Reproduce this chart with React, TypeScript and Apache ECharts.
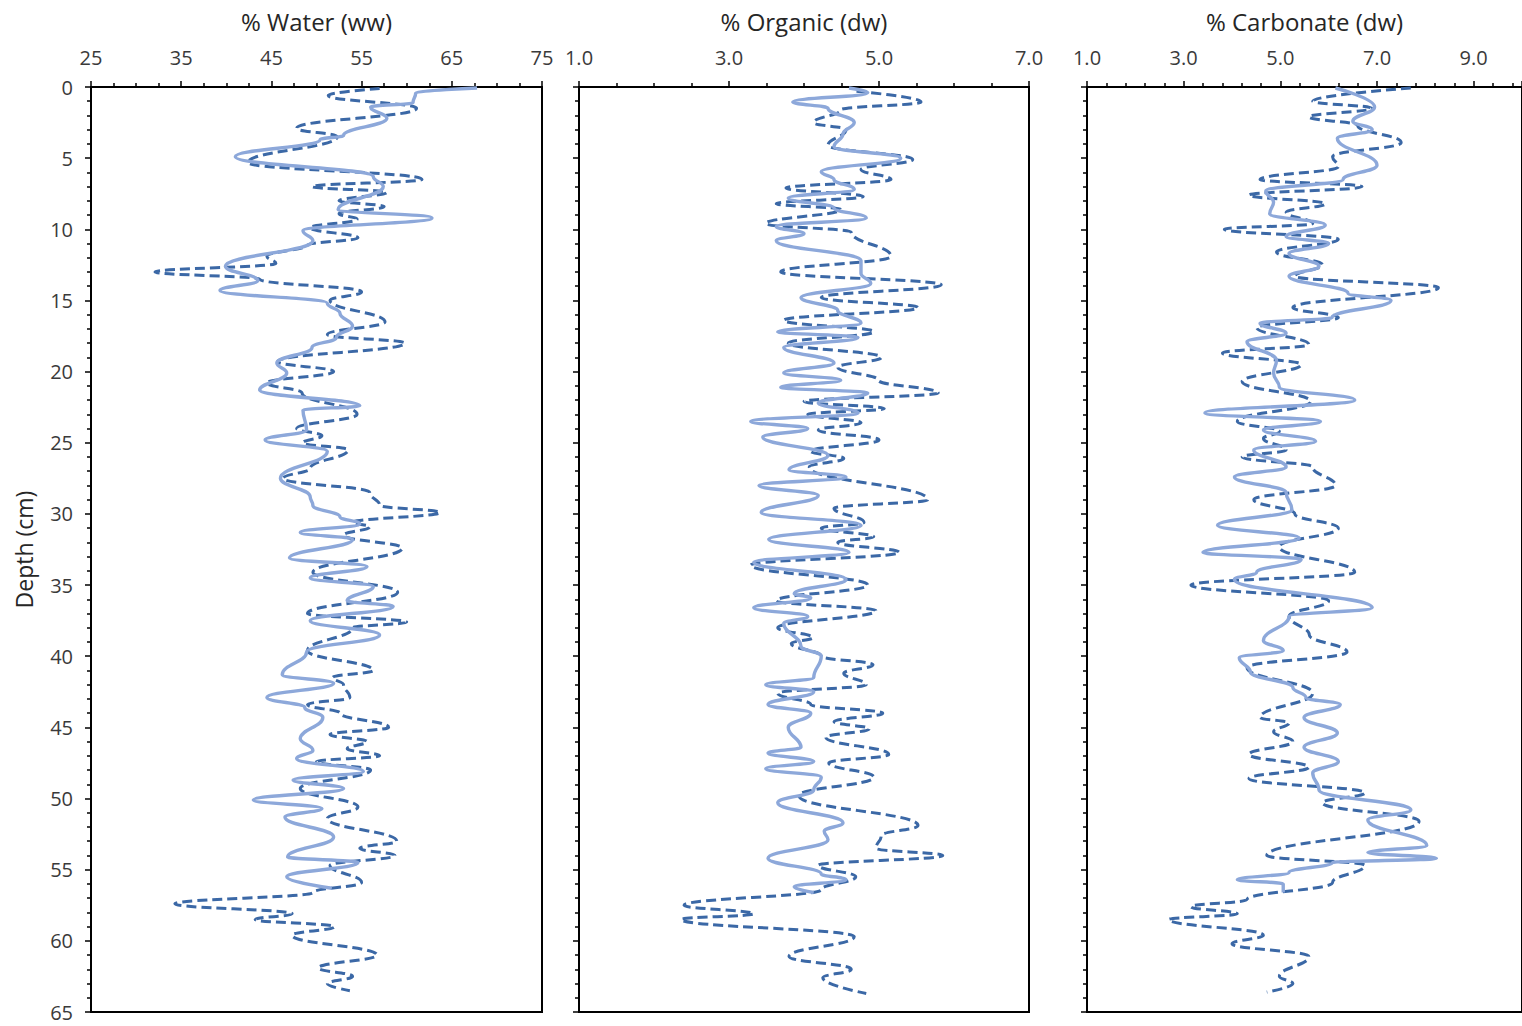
import React, { useEffect, useRef } from "react";
import * as echarts from "echarts";

// Core depths (cm) and measured values for each profile.
// Solid lines: core A; dashed lines: core B.

// % Water (ww)
const waterSolidDepth = [0.07, 0.4, 1.1, 1.4, 2.2, 3.4, 3.7, 4.9, 6.3, 7.0, 8.6, 9.2, 10.1, 10.8, 12.6, 13.6, 14.3, 15.2, 15.9, 16.8, 17.6, 18.3, 19.4, 20.1, 21.3, 22.4, 22.7, 24.1, 24.8, 25.6, 27.5, 28.8, 29.4, 30.2, 30.7, 31.3, 31.8, 33.1, 33.7, 34.5, 35.1, 36.1, 36.5, 37.5, 38.5, 39.7, 41.3, 41.9, 42.9, 43.6, 44.3, 45.8, 46.6, 47.2, 48.1, 48.7, 49.3, 50.1, 50.7, 51.3, 52.7, 54.1, 54.5, 55.5, 56.3];
const waterSolidPct = [67.8, 61.0, 60.7, 56.0, 57.8, 53.0, 50.4, 41.0, 56.3, 57.4, 52.4, 62.8, 48.5, 49.6, 39.9, 43.5, 39.3, 51.2, 52.6, 54.0, 52.2, 49.5, 45.6, 46.7, 43.7, 54.8, 48.5, 48.9, 44.3, 51.2, 46.0, 49.3, 49.6, 52.6, 54.8, 48.2, 54.0, 47.0, 55.6, 49.3, 56.3, 53.4, 58.5, 49.3, 57.0, 48.9, 46.2, 51.9, 44.5, 48.7, 50.7, 48.2, 49.6, 47.8, 55.2, 47.4, 53.0, 43.0, 50.6, 46.5, 51.9, 46.8, 54.6, 46.7, 51.7];
const waterDashDepth = [0.1, 0.6, 1.5, 2.9, 3.5, 5.3, 6.5, 7.0, 7.4, 8.0, 8.4, 8.9, 9.3, 9.9, 10.6, 11.1, 11.9, 12.4, 13.0, 13.5, 14.4, 15.0, 16.5, 17.4, 18.0, 19.3, 20.0, 20.8, 21.5, 23.0, 24.0, 24.5, 25.0, 25.5, 26.8, 27.5, 28.5, 29.4, 29.9, 30.6, 30.9, 31.5, 32.4, 34.1, 35.5, 37.0, 37.6, 38.0, 39.6, 41.0, 41.5, 42.0, 42.9, 43.4, 44.0, 45.0, 45.5, 46.0, 46.5, 47.0, 47.4, 48.0, 49.3, 50.6, 51.4, 53.0, 53.5, 54.0, 54.7, 55.9, 56.6, 57.4, 58.1, 58.5, 59.0, 59.6, 61.0, 61.9, 62.5, 63.0, 63.5];
const waterDashPct = [57.0, 51.3, 61.1, 47.8, 52.3, 42.4, 61.7, 49.5, 57.8, 52.5, 57.5, 52.5, 54.5, 49.3, 54.6, 49.0, 44.5, 45.5, 32.1, 43.7, 55.0, 51.5, 57.6, 51.2, 59.8, 45.7, 51.9, 44.5, 48.4, 54.5, 47.8, 50.6, 48.5, 53.5, 49.3, 46.3, 55.9, 57.0, 63.7, 54.0, 55.9, 53.0, 59.5, 49.6, 59.0, 49.0, 60.0, 54.0, 49.0, 56.3, 51.8, 53.0, 53.7, 49.0, 52.6, 58.0, 51.5, 55.6, 53.4, 57.0, 50.0, 56.0, 48.2, 54.6, 51.2, 58.9, 54.8, 58.7, 51.5, 55.0, 49.6, 34.3, 47.3, 43.2, 52.0, 47.3, 56.7, 50.2, 54.0, 51.2, 53.7];

// % Organic (dw)
const organicSolidDepth = [0.07, 0.4, 1.05, 1.5, 2.5, 3.3, 4.2, 5.0, 5.95, 6.5, 7.2, 7.8, 8.5, 9.2, 9.8, 10.3, 10.8, 12.2, 13.1, 13.8, 14.8, 15.7, 16.6, 17.2, 17.6, 18.3, 19.4, 20.1, 20.6, 21.1, 21.5, 22.2, 22.9, 23.5, 24.0, 24.6, 25.9, 26.9, 27.4, 28.0, 28.7, 29.9, 30.8, 31.8, 32.7, 33.4, 34.6, 35.6, 35.9, 36.6, 37.2, 37.7, 39.3, 40.0, 41.5, 42.0, 42.5, 43.4, 44.0, 45.0, 46.4, 46.8, 47.4, 47.9, 48.5, 49.4, 50.3, 51.7, 52.3, 52.9, 54.2, 55.3, 55.7, 56.2, 56.6];
const organicSolidPct = [4.6, 4.85, 3.85, 4.32, 4.67, 4.52, 4.4, 5.29, 4.23, 4.4, 4.67, 3.79, 4.4, 4.83, 3.63, 4.0, 3.63, 4.76, 4.76, 4.89, 3.96, 4.45, 4.76, 3.65, 4.72, 3.73, 4.4, 3.73, 4.49, 3.69, 4.85, 4.19, 4.72, 3.29, 4.05, 3.45, 4.32, 3.8, 4.56, 3.4, 4.19, 3.43, 4.76, 3.53, 4.6, 3.33, 4.56, 3.87, 4.09, 3.33, 4.05, 3.73, 3.96, 4.23, 4.13, 3.49, 4.13, 3.52, 4.09, 3.79, 3.96, 3.52, 4.13, 3.49, 4.23, 4.13, 3.65, 4.52, 4.27, 4.32, 3.52, 4.23, 4.56, 3.87, 4.13];
const organicDashDepth = [0.3, 1.05, 1.6, 2.5, 3.0, 4.1, 5.1, 5.8, 6.5, 7.1, 7.7, 8.2, 8.6, 9.6, 10.2, 11.9, 13.0, 13.9, 14.8, 15.5, 16.4, 17.2, 18.0, 19.0, 19.7, 20.6, 21.5, 22.1, 22.6, 23.0, 23.6, 24.1, 24.8, 25.6, 26.1, 26.7, 29.0, 29.6, 30.6, 31.0, 31.6, 32.0, 32.7, 33.6, 35.0, 36.1, 36.8, 38.0, 38.7, 39.1, 40.0, 40.6, 41.2, 42.0, 42.6, 43.4, 44.0, 44.6, 45.1, 45.7, 46.9, 47.5, 48.5, 49.8, 51.9, 52.6, 53.5, 54.0, 54.7, 55.5, 56.4, 57.5, 58.1, 58.5, 59.7, 61.1, 62.0, 62.6, 63.7];
const organicDashPct = [4.7, 5.56, 4.49, 4.13, 4.56, 4.32, 5.45, 4.76, 5.16, 3.76, 4.79, 3.63, 4.49, 3.49, 4.63, 5.16, 3.69, 5.83, 4.23, 5.52, 3.73, 4.93, 3.79, 5.03, 4.45, 4.99, 5.79, 4.0, 5.07, 4.05, 4.76, 4.19, 5.0, 4.09, 4.53, 4.07, 5.65, 4.4, 4.8, 4.23, 4.93, 4.45, 5.27, 3.29, 4.85, 3.63, 4.96, 3.65, 4.12, 3.83, 4.23, 4.92, 4.53, 4.83, 3.65, 4.09, 5.05, 4.4, 4.87, 4.29, 5.13, 4.33, 4.93, 3.93, 5.52, 5.03, 4.96, 5.85, 4.19, 4.69, 4.23, 2.4, 3.33, 2.36, 4.67, 3.8, 4.63, 4.25, 4.83];

// % Carbonate (dw)
const carbonateSolidDepth = [0.07, 1.4, 2.4, 3.0, 3.6, 5.5, 6.5, 7.3, 8.1, 8.9, 9.7, 10.5, 11.0, 11.7, 12.6, 13.3, 14.5, 15.0, 16.2, 16.6, 17.3, 17.9, 19.2, 20.1, 21.1, 22.0, 22.9, 23.5, 24.1, 24.9, 25.5, 26.7, 27.4, 28.5, 29.7, 30.8, 31.7, 32.7, 33.2, 34.1, 34.6, 36.6, 37.2, 38.9, 39.6, 40.1, 41.1, 42.2, 42.9, 43.4, 44.3, 45.4, 46.4, 47.4, 48.2, 49.4, 50.8, 51.5, 53.3, 53.8, 54.2, 54.5, 55.2, 55.7, 56.0, 56.6];
const carbonateSolidPct = [6.14, 6.95, 6.5, 6.9, 6.18, 7.0, 6.3, 4.7, 4.86, 4.78, 5.93, 5.12, 6.0, 5.18, 5.8, 5.18, 6.4, 7.29, 6.07, 4.58, 5.12, 4.31, 4.92, 4.86, 4.98, 6.54, 3.44, 5.83, 4.65, 5.73, 4.45, 5.12, 4.05, 5.12, 5.24, 3.7, 5.39, 3.4, 5.43, 4.51, 4.05, 6.9, 5.18, 4.65, 5.06, 4.15, 4.38, 5.26, 5.53, 6.24, 5.49, 6.18, 5.49, 6.2, 5.67, 5.8, 7.7, 6.81, 8.03, 6.81, 8.23, 6.08, 5.18, 4.11, 5.06, 5.06];
const carbonateDashDepth = [0.07, 1.0, 1.5, 2.1, 2.7, 3.9, 4.9, 5.6, 6.5, 7.0, 7.6, 8.2, 8.8, 9.6, 10.0, 10.7, 11.6, 12.5, 13.3, 14.1, 15.5, 16.2, 16.9, 18.1, 18.7, 19.5, 20.7, 22.1, 23.5, 24.2, 24.7, 25.5, 26.0, 26.7, 28.0, 29.0, 30.0, 31.0, 32.3, 34.1, 35.0, 36.1, 37.2, 38.5, 39.7, 40.8, 42.6, 44.3, 44.7, 45.3, 46.0, 46.9, 47.8, 48.6, 49.6, 50.3, 51.6, 54.0, 54.7, 55.9, 57.1, 57.6, 58.1, 58.5, 59.6, 60.2, 61.1, 62.5, 63.0, 63.6];
const carbonateDashPct = [7.7, 5.67, 6.89, 5.59, 6.6, 7.5, 6.08, 6.2, 4.58, 6.69, 4.35, 5.93, 5.12, 5.67, 3.84, 6.2, 4.92, 5.87, 5.3, 8.27, 5.26, 6.2, 4.51, 5.59, 3.8, 5.43, 4.21, 5.63, 4.11, 4.98, 4.65, 5.12, 4.21, 5.67, 6.14, 4.45, 5.3, 6.2, 4.98, 6.54, 3.15, 6.0, 5.18, 5.6, 6.38, 4.31, 5.67, 4.58, 5.18, 4.86, 5.26, 4.35, 5.59, 4.35, 6.75, 5.87, 7.87, 4.72, 6.75, 6.08, 4.31, 3.15, 4.11, 2.69, 4.65, 4.0, 5.59, 4.98, 5.26, 4.72];

// Axis settings per panel
const panelTitles = ["% Water (ww)", "% Organic (dw)", "% Carbonate (dw)"];
const panelMin = [25, 1, 1];
const panelMax = [75, 7, 10];
const panelInterval = [10, 2, 2];
const panelMinorSplits = [4, 4, 5];
const panelDecimals = [0, 1, 1];
const depthMin = 0;
const depthMax = 65;
const depthInterval = 5;

const FONT = "'Open Sans', 'Noto Sans', sans-serif";
const SOLID_COLOR = "#8DA8DA";
const DASH_COLOR = "#3B68A6";

const gridLefts = [91, 579, 1087];
const gridWidths = [451, 450, 443];
const GRID_TOP = 87;
const GRID_HEIGHT = 925;

const pairs = (vals: number[], depths: number[]) => vals.map((v, i) => [v, depths[i]]);

export default function App() {
  const ref = useRef<HTMLDivElement>(null);

  useEffect(() => {
    if (!ref.current) return;
    const chart = echarts.init(ref.current, undefined, { renderer: "svg" });

    const profiles = [
      { solid: pairs(waterSolidPct, waterSolidDepth), dash: pairs(waterDashPct, waterDashDepth) },
      { solid: pairs(organicSolidPct, organicSolidDepth), dash: pairs(organicDashPct, organicDashDepth) },
      { solid: pairs(carbonateSolidPct, carbonateSolidDepth), dash: pairs(carbonateDashPct, carbonateDashDepth) },
    ];

    const grid = gridLefts.map((left, i) => ({
      left,
      top: GRID_TOP,
      width: gridWidths[i],
      height: GRID_HEIGHT,
      show: true,
      borderColor: "#000",
      borderWidth: 2,
      backgroundColor: "transparent",
      containLabel: false,
    }));

    const xAxis = panelTitles.map((title, i) => ({
      type: "value",
      gridIndex: i,
      position: "top",
      min: panelMin[i],
      max: panelMax[i],
      interval: panelInterval[i],
      name: title,
      nameLocation: "middle",
      nameGap: 54,
      nameTextStyle: { fontFamily: FONT, fontSize: 24, color: "#262626" },
      axisLine: { show: true, lineStyle: { color: "#000", width: 2 } },
      axisTick: { show: true, inside: false, length: 6, lineStyle: { color: "#000", width: 1.5 } },
      minorTick: { show: true, splitNumber: panelMinorSplits[i], length: 4, lineStyle: { color: "#000", width: 1.5 } },
      splitLine: { show: false },
      minorSplitLine: { show: false },
      axisLabel: {
        show: true,
        margin: 20,
        showMaxLabel: i !== 2,
        fontFamily: FONT,
        fontSize: 20,
        color: "#3a3a3a",
        formatter: (v: number) => v.toFixed(panelDecimals[i]),
      },
    }));

    const yAxis = panelTitles.map((_, i) => ({
      type: "value",
      gridIndex: i,
      position: "left",
      inverse: true,
      min: depthMin,
      max: depthMax,
      interval: depthInterval,
      name: i === 0 ? "Depth (cm)" : "",
      nameLocation: "middle",
      nameGap: 56,
      nameTextStyle: { fontFamily: FONT, fontSize: 23, color: "#262626" },
      axisLine: { show: true, lineStyle: { color: "#000", width: 2 } },
      axisTick: { show: true, inside: false, length: 6, lineStyle: { color: "#000", width: 1.5 } },
      minorTick: { show: true, splitNumber: 5, length: 4, lineStyle: { color: "#000", width: 1.5 } },
      splitLine: { show: false },
      axisLabel: {
        show: i === 0,
        margin: 18,
        fontFamily: FONT,
        fontSize: 20,
        color: "#3a3a3a",
      },
    }));

    const series: any[] = [];
    profiles.forEach((p, i) => {
      series.push({
        type: "line",
        name: `${panelTitles[i]} B`,
        xAxisIndex: i,
        yAxisIndex: i,
        data: p.dash,
        smooth: 0.45,
        smoothMonotone: "y",
        showSymbol: false,
        symbol: "none",
        lineStyle: { color: DASH_COLOR, width: 3, type: [10, 5] },
        z: 2,
      });
      series.push({
        type: "line",
        name: `${panelTitles[i]} A`,
        xAxisIndex: i,
        yAxisIndex: i,
        data: p.solid,
        smooth: 0.45,
        smoothMonotone: "y",
        showSymbol: false,
        symbol: "none",
        lineStyle: { color: SOLID_COLOR, width: 3.4 },
        z: 3,
      });
    });

    chart.setOption({
      animation: false,
      backgroundColor: "#fff",
      grid,
      xAxis,
      yAxis,
      series,
    });

    return () => chart.dispose();
  }, []);

  return (
    <div
      ref={ref}
      style={{ position: "fixed", left: 0, top: 0, width: 1522, height: 1026, background: "#fff" }}
    />
  );
}
